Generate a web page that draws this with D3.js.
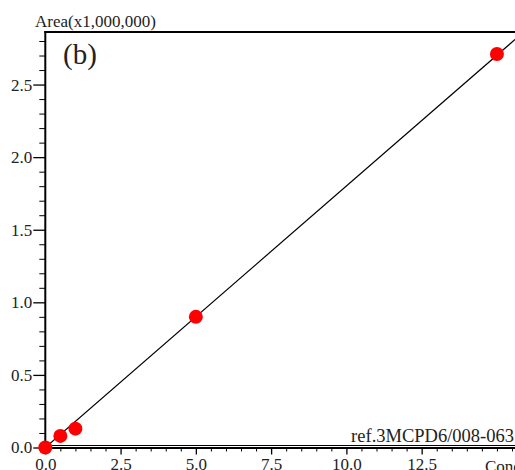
<!DOCTYPE html>
<html>
<head>
<meta charset="utf-8">
<script src="https://cdn.jsdelivr.net/npm/d3@7"></script>
<style>
  body { margin: 0; background: #fff; }
  #chart { width: 515px; height: 470px; overflow: hidden; }
  text { font-family: "Liberation Serif", "Times New Roman", serif; fill: #222; }
  .axis path, .axis line { stroke: #000; }
</style>
</head>
<body>
<div id="chart"></div>
<script>
// calibration points (conc, area x1,000,000)
var concs = [0, 0.5, 1, 5, 15];
var areas = [0, 0.08, 0.13, 0.90, 2.71];

// fitted calibration line ends
var fitX = [0, 15.6];
var fitY = [0, 2.81];

var xMajor = [0, 2.5, 5, 7.5, 10, 12.5];
var yMajor = [0, 0.5, 1.0, 1.5, 2.0, 2.5];

var width = 515, height = 470;
var serif = "'Liberation Serif', 'Times New Roman', serif";

var x = d3.scaleLinear().domain([0, 15.6]).range([45.3, 515]);
var y = d3.scaleLinear().domain([0, 2.862]).range([447.5, 32]);

var svg = d3.select("#chart").append("svg")
    .attr("width", width)
    .attr("height", height);

// minor ticks
var xMinor = d3.range(0, 15.6, 0.5).filter(function(v) { return xMajor.indexOf(v) < 0; });
var yMinor = d3.range(0, 2.86, 0.1).map(function(v) { return +v.toFixed(1); })
    .filter(function(v) { return yMajor.indexOf(v) < 0; });

svg.append("g")
    .attr("class", "axis")
    .attr("transform", "translate(0," + y(0) + ")")
    .call(d3.axisBottom(x).tickValues(xMinor).tickSize(4).tickFormat(""))
    .call(function(g) { g.select(".domain").remove(); });

svg.append("g")
    .attr("class", "axis")
    .attr("transform", "translate(" + x(0) + ",0)")
    .call(d3.axisLeft(y).tickValues(yMinor).tickSize(6).tickFormat(""))
    .call(function(g) { g.select(".domain").remove(); });

// major ticks + labels
var xAxis = svg.append("g")
    .attr("class", "axis")
    .attr("transform", "translate(0," + y(0) + ")")
    .call(d3.axisBottom(x).tickValues(xMajor).tickSize(7).tickPadding(3)
      .tickFormat(d3.format(".1f")));
xAxis.select(".domain").remove();
xAxis.attr("font-family", serif).attr("font-size", 17);
xAxis.selectAll("text").style("font-family", serif).attr("fill", "#222");
xAxis.selectAll("line").attr("stroke-width", 1.3);

// "Conc" axis title, partly cropped at right edge
svg.append("text")
    .attr("x", 485)
    .attr("y", 472)
    .style("font-size", "17px")
    .text("Conc.");

var yAxis = svg.append("g")
    .attr("class", "axis")
    .attr("transform", "translate(" + x(0) + ",0)")
    .call(d3.axisLeft(y).tickValues(yMajor).tickSize(12).tickPadding(1)
      .tickFormat(d3.format(".1f")));
yAxis.select(".domain").remove();
yAxis.attr("font-family", serif).attr("font-size", 17);
yAxis.selectAll("text").style("font-family", serif).attr("fill", "#222");
yAxis.selectAll("line").attr("stroke-width", 1.3);

// frame lines
svg.append("line")
    .attr("x1", x(0)).attr("x2", width)
    .attr("y1", y(0) - 2).attr("y2", y(0) - 2)
    .attr("stroke", "#000").attr("stroke-width", 1);
svg.append("line")
    .attr("x1", x(0) - 1).attr("x2", width)
    .attr("y1", y(0) + 0.5).attr("y2", y(0) + 0.5)
    .attr("stroke", "#000").attr("stroke-width", 2);
svg.append("line")
    .attr("x1", x(0)).attr("x2", x(0))
    .attr("y1", 31).attr("y2", y(0) + 1.5)
    .attr("stroke", "#000").attr("stroke-width", 2);
svg.append("line")
    .attr("x1", x(0) - 1).attr("x2", width)
    .attr("y1", 32).attr("y2", 32)
    .attr("stroke", "#000").attr("stroke-width", 2);

// clip for plot area
svg.append("clipPath").attr("id", "plot")
  .append("rect")
    .attr("x", x(0)).attr("y", 33)
    .attr("width", width - x(0)).attr("height", y(0) - 33);

// fitted line
var line = d3.line()
    .x(function(d) { return x(d[0]); })
    .y(function(d) { return y(d[1]); });

svg.append("path")
    .datum(d3.zip(fitX, fitY))
    .attr("clip-path", "url(#plot)")
    .attr("fill", "none")
    .attr("stroke", "#000")
    .attr("stroke-width", 1.2)
    .attr("d", line);

// points
svg.selectAll(".dot")
    .data(d3.zip(concs, areas))
  .enter().append("circle")
    .attr("class", "dot")
    .attr("r", 7)
    .attr("cx", function(d) { return x(d[0]); })
    .attr("cy", function(d) { return y(d[1]); })
    .attr("fill", "#ff0000");

// labels
svg.append("text")
    .attr("x", 35)
    .attr("y", 27)
    .style("font-size", "17px")
    .text("Area(x1,000,000)");

svg.append("text")
    .attr("x", 63)
    .attr("y", 64)
    .style("font-size", "29px")
    .attr("fill", "#000")
    .text("(b)");

svg.append("text")
    .attr("x", 514)
    .attr("y", 442)
    .attr("text-anchor", "end")
    .style("font-size", "18.5px")
    .text("ref.3MCPD6/008-063");
</script>
</body>
</html>
